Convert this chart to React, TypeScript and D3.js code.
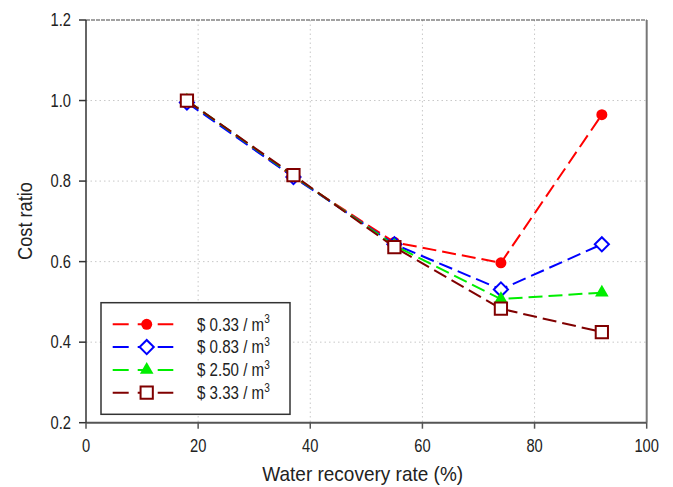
import React from 'react';
import { scaleLinear, line, symbol, symbolCircle, symbolTriangle, symbolSquare } from 'd3';

const recoveryRates = [18, 37, 55, 74, 92];
const price033 = [1.0, 0.81, 0.648, 0.597, 0.965];
const price083 = [0.995, 0.81, 0.643, 0.531, 0.643];
const price250 = [1.0, 0.813, 0.64, 0.507, 0.523];
const price333 = [1.0, 0.815, 0.636, 0.483, 0.425];
const seriesNames = ['$ 0.33 / m', '$ 0.83 / m', '$ 2.50 / m', '$ 3.33 / m'];
const xTicks = [0, 20, 40, 60, 80, 100];
const yTicks = [0.2, 0.4, 0.6, 0.8, 1.0, 1.2];

const FONT = '"Liberation Sans", Arial, sans-serif';

const series = [
  { name: seriesNames[0], values: price033, color: '#ff0000', shape: symbolCircle, size: 95, filled: true, rot: 0 },
  { name: seriesNames[1], values: price083, color: '#0000ff', shape: symbolSquare, size: 100, filled: false, rot: 45 },
  { name: seriesNames[2], values: price250, color: '#00ee00', shape: symbolTriangle, size: 80, filled: true, rot: 0 },
  { name: seriesNames[3], values: price333, color: '#800000', shape: symbolSquare, size: 150, filled: false, rot: 0 },
];

// narrow-looking text: the original uses a slightly condensed face
const Txt = ({ x, y, anchor = 'start', size, children, rotate = 0, squeeze = 0.84 }: any) => (
  <text
    transform={`translate(${x}, ${y}) rotate(${rotate}) scale(${squeeze}, 1)`}
    textAnchor={anchor}
    dy="0.35em"
    fontSize={size}
    fill="#222"
  >
    {children}
  </text>
);

const App = () => {
  const width = 673;
  const height = 487;
  const left = 86;
  const right = 646.7;
  const top = 20;
  const bottom = 422.7;

  const xScale = scaleLinear().domain([0, 100]).range([left, right]);
  const yScale = scaleLinear().domain([0.2, 1.2]).range([bottom, top]);

  const path = line<number>()
    .x((d, i) => xScale(recoveryRates[i]))
    .y(d => yScale(d));

  const legendX = 101;
  const legendY = 302.7;
  const legendRow = 22.8;

  return (
    <svg width={width} height={height} style={{ position: 'absolute', left: 0, top: 0, fontFamily: FONT }}>
      <rect width={width} height={height} fill="#fff" />

      {/* grid */}
      {xTicks.slice(1, -1).map(t =>
        <line key={`gx-${t}`} x1={xScale(t)} x2={xScale(t)} y1={top} y2={bottom}
          stroke="#c8c8c8" strokeWidth={1} strokeDasharray="1.5,3" />
      )}
      {yTicks.slice(1, -1).map(t =>
        <line key={`gy-${t}`} x1={left} x2={right} y1={yScale(t)} y2={yScale(t)}
          stroke="#c8c8c8" strokeWidth={1} strokeDasharray="1.5,3" />
      )}

      {/* frame */}
      <line x1={left} x2={right} y1={top} y2={top} stroke="#444" strokeWidth={1.2} strokeDasharray="4,1" />
      <line x1={right} x2={right} y1={top} y2={bottom} stroke="#777" strokeWidth={2} />
      <line x1={left} x2={right} y1={bottom} y2={bottom} stroke="#555" strokeWidth={2} />
      <line x1={left} x2={left} y1={top} y2={bottom} stroke="#333" strokeWidth={1.5} />

      {/* y axis */}
      {yTicks.map(t =>
        <g key={`yt-${t}`}>
          <line x1={left - 7} x2={left} y1={yScale(t)} y2={yScale(t)} stroke="#333" strokeWidth={1.5} />
          <Txt x={left - 15} y={yScale(t)} anchor="end" size={17.5}>{t.toFixed(1)}</Txt>
        </g>
      )}

      {/* x axis */}
      {xTicks.map(t =>
        <g key={`xt-${t}`}>
          <line x1={xScale(t)} x2={xScale(t)} y1={bottom} y2={bottom + 6} stroke="#555" strokeWidth={1.5} />
          <Txt x={xScale(t)} y={bottom + 23} anchor="middle" size={17.5}>{t}</Txt>
        </g>
      )}

      <Txt x={362.7} y={474} anchor="middle" size={20} squeeze={0.95}>Water recovery rate (%)</Txt>
      <Txt x={25} y={221} anchor="middle" size={20} rotate={-90} squeeze={0.91}>Cost ratio</Txt>

      {/* series */}
      {series.map(s =>
        <g key={`s-${s.name}`}>
          <path d={path(s.values) ?? ''} fill="none" stroke={s.color} strokeWidth={2} strokeDasharray="14,6" />
          {s.values.map((v, i) =>
            <path key={`m-${s.name}-${i}`}
              transform={`translate(${xScale(recoveryRates[i])}, ${yScale(v)}) rotate(${s.rot})`}
              d={symbol(s.shape, s.size)() ?? ''}
              fill={s.filled ? s.color : '#fff'}
              stroke={s.color}
              strokeWidth={s.filled ? 0 : 2} />
          )}
        </g>
      )}

      {/* legend */}
      <rect x={legendX} y={legendY} width={189} height={111.6} fill="#fff" stroke="#333" strokeWidth={1.5} />
      {series.map((s, i) => {
        const cy = legendY + 21.6 + i * legendRow;
        return (
          <g key={`lg-${s.name}`}>
            <line x1={112.7} x2={173.3} y1={cy} y2={cy} stroke={s.color} strokeWidth={2} strokeDasharray="16,9,11,9,16" />
            <path transform={`translate(146.7, ${cy}) rotate(${s.rot})`} d={symbol(s.shape, s.size)() ?? ''}
              fill={s.filled ? s.color : '#fff'} stroke={s.color} strokeWidth={s.filled ? 0 : 2} />
            <Txt x={197} y={cy} size={18}>
              {s.name}<tspan fontSize={12} dy="-0.6em">3</tspan>
            </Txt>
          </g>
        );
      })}
    </svg>
  );
};

export default App;
